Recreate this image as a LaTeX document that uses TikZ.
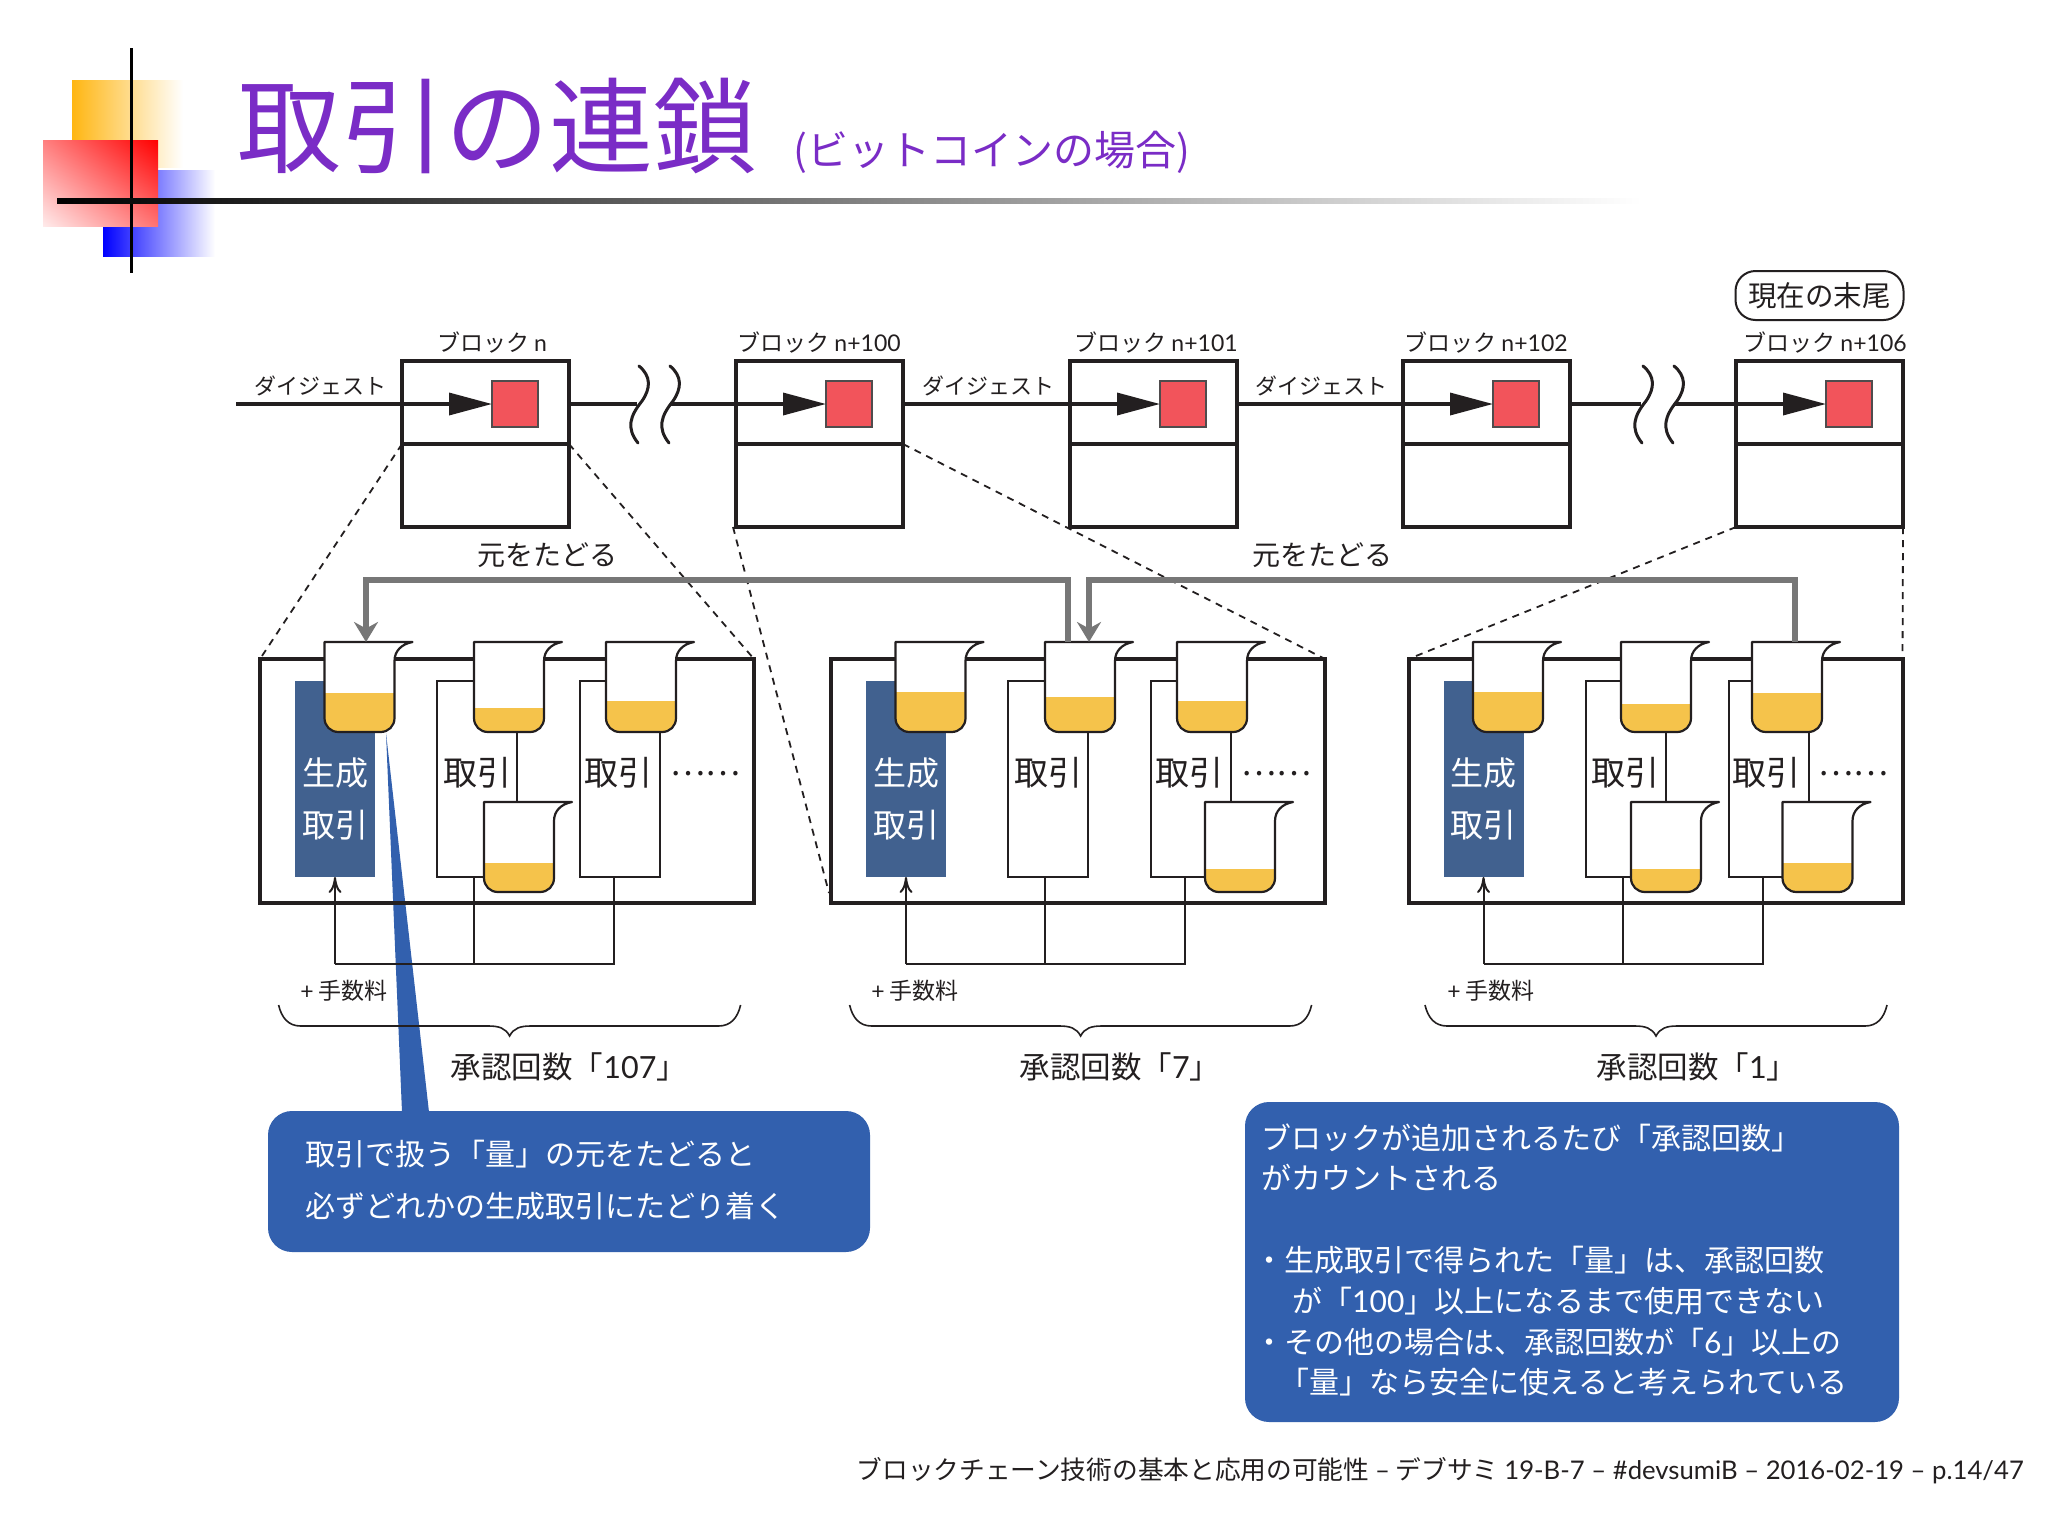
\documentclass[tikz,border=0pt]{standalone}
\usepackage{fontspec}
\setmainfont{Noto Sans CJK JP}
\newfontfamily\lat{Lato}
\usetikzlibrary{arrows.meta,shadings}
\definecolor{ink}{HTML}{231F20}
\definecolor{redbox}{HTML}{F2545B}
\definecolor{genblue}{HTML}{41618F}
\definecolor{callblue}{HTML}{3260AE}
\definecolor{liquid}{HTML}{F5C34B}
\definecolor{pathgrey}{HTML}{777777}
\definecolor{titlepurple}{HTML}{7A2CC6}
\definecolor{logoorange}{HTML}{FFB612}
% beaker outline, origin at the top left corner
\newcommand{\beakpath}{(0,0) -- (0,76) .. controls (0,84) and (6,90) .. (14,90) -- (56,90)
  .. controls (64,90) and (70,84) .. (70,76) -- (70,19) .. controls (70,9) and (77,2) .. (88,0) -- cycle}
\tikzset{
  fs/.style={font=\fontsize{#1}{#1}\selectfont},
  fsl/.style 2 args={font=\fontsize{#1}{#2}\selectfont},
  lab/.style={inner sep=0, text=ink},
  blockbox/.style={draw=ink, line width=4, minimum width=167, minimum height=166, inner sep=0, outer sep=0},
  redmark/.style={draw=ink!80, line width=1.2, fill=redbox, minimum width=46, minimum height=46, inner sep=0, outer sep=0},
  digline/.style={draw=ink, line width=3.5},
  digtip/.style={digline, -{Triangle[length=43,width=22]}},
  wave/.style={draw=ink, line width=3, line cap=round},
  groupbox/.style={draw=ink, line width=4, minimum width=494, minimum height=244, inner sep=0, outer sep=0},
  gen/.style={fill=genblue, minimum width=80, minimum height=196, inner sep=0, outer sep=0},
  tx/.style={draw=ink, line width=2, minimum width=80, minimum height=196, inner sep=0, outer sep=0},
  feed/.style={draw=ink, line width=2},
  dashline/.style={draw=ink, line width=1.8, dash pattern=on 7 off 6},
  trace/.style={draw=pathgrey, line width=5.5},
  tracetip/.style={trace, -{Stealth[length=20,width=24]}},
  callout/.style={fill=callblue, rounded corners=24, inner sep=0, outer sep=0},
  pics/beaker/.style={code={
    \fill[white] \beakpath;
    \fill[liquid] (0,#1) -- (0,76) .. controls (0,84) and (6,90) .. (14,90) -- (56,90)
      .. controls (64,90) and (70,84) .. (70,76) -- (70,#1) -- cycle;
    \draw[ink, line width=2.2, line join=round] \beakpath;
  }},
  pics/squiggle/.style={code={
    \draw[wave] (0,0) .. controls (12,10) and (12,22) .. (3,35) .. controls (-9,50) and (-13,62) .. (-1,77);
  }},
  pics/curly/.style={code={
    \draw[ink, line width=1.6] (0,0) .. controls (3,13) and (10,21) .. (22,21) -- (210,21)
      .. controls (220,21) and (227,23) .. (231,31) .. controls (235,23) and (242,21) .. (252,21)
      -- (440,21) .. controls (452,21) and (459,13) .. (462,0);
  }},
}
\begin{document}
\begin{tikzpicture}[x=1pt,y=-1pt]
\useasboundingbox (0,0) rectangle (2048,1516);
\fill[white] (0,0) rectangle (2048,1516);
% ---- logo
\shade[left color=logoorange, right color=white] (72,80) rectangle (183,167);
\shade[left color=blue, right color=white] (103,170) rectangle (215,256);
\shade[upper left=red!50, upper right=red, lower left=red!8, lower right=red!55] (43,140) rectangle (158,226);
\fill[black] (129.5,48) rectangle (132.5,273);
\shade[left color=black, right color=white] (57,198.5) rectangle (1641,203.5);
% ---- title
\node[lab, fs=104, text=titlepurple, anchor=west] (title) at (237,126) {取引の連鎖};
\node[lab, fs=41, text=titlepurple, anchor=west] (subtitle) at (793,152) {(ビットコインの場合)};
% ---- callouts and their pointer
\node[callout, minimum width=602, minimum height=141] (callA) at (569,1181.5) {};
\node[callout, minimum width=654, minimum height=320] (callB) at (1572,1262) {};
\coordinate (ptip) at (386,733);
\coordinate (pl) at (402,1112);
\coordinate (pr) at (429,1112);
\fill[callblue] (ptip) -- (pl) -- (pr) -- cycle;
\node[lab, fsl={30}{52}, text=white, anchor=west, align=left] (callAtext) at (305,1180.5)
  {取引で扱う「量」の元をたどると\\必ずどれかの生成取引にたどり着く};
\node[lab, fsl={30}{40.8}, text=white, anchor=west, align=left] (callBtext) at (1254,1260)
  {\hspace*{7pt}ブロックが追加されるたび「承認回数」\\
   \hspace*{7pt}がカウントされる\\[40.8pt]
   ・生成取引で得られた「量」は、承認回数\\
   \hspace*{38pt}が「{\lat 100}」以上になるまで使用できない\\
   ・その他の場合は、承認回数が「{\lat 6}」以上の\\
   \hspace*{25pt}「量」なら安全に使えると考えられている};
% ---- blocks
\foreach \i/\x in {1/402,2/736,3/1070,4/1403,5/1736}{
  \node[blockbox] (b\i) at (\x+83.5,444) {};
  \draw[ink, line width=4] (b\i.west) -- (b\i.east);
  \node[redmark] (r\i) at (\x+113,404) {};
}
\node[lab, fs=23, anchor=center] (nameA) at (492,342) {ブロック {\lat n}};
\node[lab, fs=23] (nameB) at (819,342) {ブロック {\lat n+100}};
\node[lab, fs=23] (nameC) at (1156,342) {ブロック {\lat n+101}};
\node[lab, fs=23] (nameD) at (1486,342) {ブロック {\lat n+102}};
\node[lab, fs=23] (nameE) at (1825,342) {ブロック {\lat n+106}};
\node[lab, fs=22] (digA) at (320,385.5) {ダイジェスト};
\node[lab, fs=22] (digB) at (988,385.5) {ダイジェスト};
\node[lab, fs=22] (digC) at (1321,385.5) {ダイジェスト};
\node[draw=ink, line width=2, rounded corners=20, minimum width=168, minimum height=49, inner sep=0, text=ink, fs=28.5] (tail) at (1819.5,295.5) {現在の末尾};
% ---- chain of digests
\coordinate (start) at (236,404);
\coordinate (gapAl) at (637,404);
\coordinate (gapAr) at (671,404);
\coordinate (gapBl) at (1641,404);
\coordinate (gapBr) at (1674,404);
\draw[digtip] (start) -- (r1.west);
\draw[digline] (b1.east |- r1.west) -- (gapAl);
\draw[digtip] (gapAr) -- (r2.west);
\draw[digtip] (b2.east |- r2.west) -- (r3.west);
\draw[digtip] (b3.east |- r3.west) -- (r4.west);
\draw[digline] (b4.east |- r4.west) -- (gapBl);
\draw[digtip] (gapBr) -- (r5.west);
\pic at (639,366) {squiggle};
\pic at (670,366) {squiggle};
\pic at (1643,366) {squiggle};
\pic at (1674,366) {squiggle};
% ---- transaction groups
\foreach \n/\x in {a/260,b/831,c/1408.5}{
  \node[groupbox] (box\n) at (\x+247,781) {};
  \node[gen] (gen\n) at (\x+75,779) {};
  \node[tx] (txa\n) at (\x+217,779) {};
  \node[tx] (txb\n) at (\x+360,779) {};
  \node[lab, fsl={33}{52}, text=white, align=center] (genlab\n) at (\x+75,799) {生成\\取引};
  \node[lab, fs=34] (txalab\n) at (\x+217,773) {取引};
  \node[lab, fs=34] (txblab\n) at (\x+358,773) {取引};
  \node[lab, fs=33] (dots\n) at (\x+445,774) {……};
  \coordinate (join\n) at (\x+75,964);
  \draw[feed] (txa\n.south) ++(-3,0) coordinate (fa\n) -- (fa\n |- join\n);
  \draw[feed] (txb\n.south) ++(-6,0) coordinate (fb\n) -- (fb\n |- join\n) -- (join\n);
  \draw[feed, -{To[length=16,width=13]}] (join\n) -- (gen\n.south);
}
% ---- dashed guides from the blocks down to the groups
\coordinate (dashfrom) at (733,527);
\coordinate (dashend) at (829,893);
\draw[dashline] (b1.west) -- (boxa.north west);
\draw[dashline] (b1.east) -- (boxa.north east);
\draw[dashline] (dashfrom) -- (dashend);
\draw[dashline] (b2.east) -- (boxb.north east);
\draw[dashline] (b5.south west) -- (boxc.north west);
\draw[dashline] (b5.south east) -- (boxc.north east);
% ---- beakers
\pic at (324.5,642) {beaker=51};
\pic at (474,642) {beaker=66};
\pic at (606,642) {beaker=59};
\pic at (484,802) {beaker=61};
\pic at (895.5,642) {beaker=50};
\pic at (1045,642) {beaker=55};
\pic at (1177,642) {beaker=59};
\pic at (1205,802) {beaker=67};
\pic at (1473,642) {beaker=50};
\pic at (1621,642) {beaker=62};
\pic at (1752,642) {beaker=51};
\pic at (1631,802) {beaker=67};
\pic at (1782.5,802) {beaker=61};
% ---- tracing back
\node[lab, fs=28] (backA) at (547.5,555.5) {元をたどる};
\node[lab, fs=28] (backB) at (1322,555) {元をたどる};
\coordinate (trAs) at (1068,642);
\coordinate (trAu) at (1068,580);
\coordinate (trAv) at (366,580);
\coordinate (trAe) at (366,642);
\coordinate (trBs) at (1795,642);
\coordinate (trBu) at (1795,580);
\coordinate (trBv) at (1089,580);
\coordinate (trBe) at (1089,642);
\draw[tracetip] (trAs) -- (trAu) -- (trAv) -- (trAe);
\draw[tracetip] (trBs) -- (trBu) -- (trBv) -- (trBe);
% ---- fees and confirmation counts
\foreach \n/\x/\b/\c/\t in {a/344/278.6/569/107, b/915/849.6/1120/7, c/1491/1425/1697/1}{
  \node[lab, fs=23] (fee\n) at (\x,991) {{\lat +} 手数料};
  \pic at (\b,1005) {curly};
  \node[lab, fs=30.5] (conf\n) at (\c,1067) {承認回数「{\lat \t}」};
}
% ---- footer
\node[lab, fs=25.7, anchor=east] (foot) at (2024,1471) {ブロックチェーン技術の基本と応用の可能性 {\lat –} デブサミ {\lat 19-B-7 – \#devsumiB – 2016-02-19 – p.14/47}};
\end{tikzpicture}
\end{document}
